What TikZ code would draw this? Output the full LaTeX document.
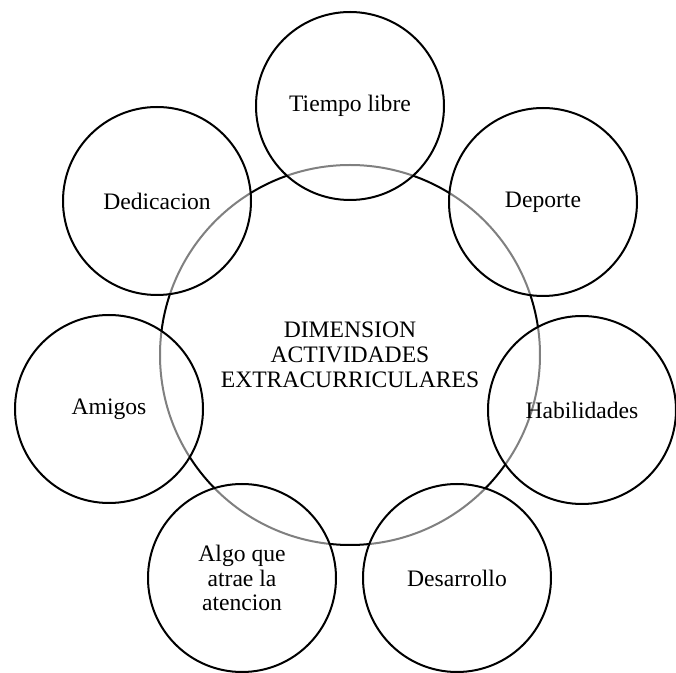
\documentclass[tikz,border=0pt]{standalone}
\usepackage{fontspec}
\setmainfont{Liberation Serif}
\usepackage{tikz}
\pgfdeclarelayer{bg}
\pgfsetlayers{bg,main}

\begin{document}
\begin{tikzpicture}[x=0.5pt, y=-0.5pt,
    every node/.style={font=\fontsize{11.8}{12.4}\selectfont, align=center},
    hub/.style={circle, draw=black, line width=1pt, minimum size=190pt, inner sep=0pt},
    petal/.style={circle, draw=black, line width=1pt, minimum size=94pt, inner sep=0pt}]
      \useasboundingbox (0,0) rectangle (676,673);
      \coordinate (c0) at (350,355);
      \coordinate (c1) at (350,106);
      \coordinate (c2) at (543,202);
      \coordinate (c3) at (582,410);
      \coordinate (c4) at (457,578);
      \coordinate (c5) at (242,578);
      \coordinate (c6) at (109,409);
      \coordinate (c7) at (157,201);

      %\foreach \i in {0, ..., 7} \fill (c\i) circle (2pt);
      \node[petal] (tiempo) at (c1) {Tiempo libre};
      \node[petal] (deporte) at (c2) {Deporte};
      \node[petal] (habil) at (c3) {Habilidades};
      \node[petal] (desarrollo) at (c4) {Desarrollo};
      \node[petal] (atencion) at (c5) {Algo que\\atrae la\\atencion};
      \node[petal] (amigos) at (c6) {Amigos};
      \node[petal] (dedicacion) at (c7) {Dedicacion};

      \begin{pgfonlayer}{bg}
        \node[hub] (dim) at (c0) {DIMENSION\\ACTIVIDADES\\EXTRACURRICULARES};
        % hub seen through the petals
        \foreach \i in {1, ..., 7} {
          \fill[white] (c\i) circle (94);
          \begin{scope}
            \clip (c\i) circle (94);
            \draw[gray, line width=1pt] (c0) circle (190);
          \end{scope}
        }
      \end{pgfonlayer}
    \end{tikzpicture}
\end{document}
